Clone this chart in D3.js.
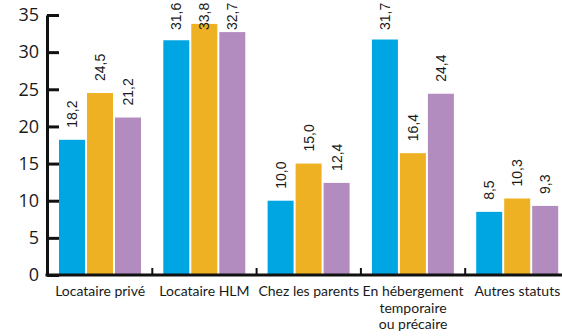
<!DOCTYPE html>
<html>
<head>
<meta charset="utf-8">
<script src="https://cdn.jsdelivr.net/npm/d3@7"></script>
<style>
  html, body { margin: 0; padding: 0; background: #fff; }
  svg { display: block; }
</style>
</head>
<body>
<div id="chart"></div>
<script>
// categories (x axis) and the three series
const categories = ["Locataire privé", "Locataire HLM", "Chez les parents", "En hébergement\ntemporaire\nou précaire", "Autres statuts"];
const seriesNames = ["s1", "s2", "s3"];
const seriesA = [18.2, 31.6, 10.0, 31.7, 8.5];
const seriesB = [24.5, 33.8, 15.0, 16.4, 10.3];
const seriesC = [21.2, 32.7, 12.4, 24.4, 9.3];
const yTicks = [0, 5, 10, 15, 20, 25, 30, 35];
const colors = ["#00a6e2", "#eeb123", "#b28cbf"];

const width = 562;
const height = 336;

const svg = d3.select("#chart")
    .append("svg")
    .attr("width", width)
    .attr("height", height);

const x = d3.scaleBand()
    .domain(categories)
    .range([48, 569.5]);

const xInner = d3.scaleBand()
    .domain(seriesNames)
    .range([11, 93])
    .paddingInner(1 / 14);

const y = d3.scaleLinear()
    .domain([0, 35])
    .range([275, 15]);

const color = d3.scaleOrdinal().domain(seriesNames).range(colors);

// one row per category
const rows = categories.map((c, i) => ({
    cat: c,
    values: [seriesA[i], seriesB[i], seriesC[i]].map((v, j) => ({ key: seriesNames[j], value: v }))
}));

const fmt = v => d3.format(".1f")(v).replace(".", ",");

const groups = svg.selectAll("g.cat")
    .data(rows)
    .enter()
    .append("g")
    .attr("class", "cat")
    .attr("transform", d => `translate(${x(d.cat)},0)`);

groups.selectAll("rect")
    .data(d => d.values)
    .enter()
    .append("rect")
    .attr("x", d => xInner(d.key))
    .attr("width", xInner.bandwidth())
    .attr("y", d => y(d.value))
    .attr("height", d => y(0) - y(d.value))
    .attr("fill", d => color(d.key));

// value labels, turned a quarter; kept inside the top edge
groups.selectAll("text.val")
    .data(d => d.values)
    .enter()
    .append("text")
    .attr("class", "val")
    .attr("transform", d => `translate(${xInner(d.key) + xInner.bandwidth() / 2},${Math.max(y(d.value) - 12, 30)}) rotate(-90)`)
    .attr("text-anchor", "start")
    .attr("dominant-baseline", "central")
    .attr("font-family", "'Liberation Sans', Arial, sans-serif")
    .attr("font-size", "14px")
    .attr("fill", "#1a1a1a")
    .text(d => fmt(d.value));

// y axis, ticks pointing inwards
const yAxis = d3.axisLeft(y)
    .tickValues(yTicks)
    .tickSizeInner(-12)
    .tickSizeOuter(0)
    .tickPadding(8)
    .tickFormat(d3.format("d"));

const gy = svg.append("g")
    .attr("transform", "translate(47,0)")
    .call(yAxis);

gy.select(".domain").attr("stroke", "#111").attr("stroke-width", 3);
gy.selectAll(".tick line").attr("stroke", "#111").attr("stroke-width", 3);
gy.selectAll(".tick text")
    .attr("font-family", "'Open Sans', sans-serif")
    .attr("font-size", "18px")
    .attr("fill", "#1a1a1a");

// x axis line with small separators between categories
svg.append("line")
    .attr("x1", 45.5)
    .attr("x2", width)
    .attr("y1", y(0))
    .attr("y2", y(0))
    .attr("stroke", "#111")
    .attr("stroke-width", 3);

svg.selectAll("line.sep")
    .data(categories.slice(1))
    .enter()
    .append("line")
    .attr("class", "sep")
    .attr("x1", d => x(d))
    .attr("x2", d => x(d))
    .attr("y1", y(0))
    .attr("y2", y(0) - 7)
    .attr("stroke", "#111")
    .attr("stroke-width", 2);

// category labels
const catLabels = svg.selectAll("text.catlab")
    .data(categories)
    .enter()
    .append("text")
    .attr("class", "catlab")
    .attr("x", d => x(d) + x.bandwidth() / 2)
    .attr("y", 296)
    .attr("text-anchor", "middle")
    .attr("font-family", "Lato, sans-serif")
    .attr("font-size", "14px")
    .attr("fill", "#1a1a1a");

catLabels.each(function (d) {
    const t = d3.select(this);
    d.split("\n").forEach((line, i) => {
        t.append("tspan")
            .attr("x", x(d) + x.bandwidth() / 2)
            .attr("dy", i === 0 ? 0 : 16.5)
            .text(line);
    });
});
</script>
</body>
</html>
